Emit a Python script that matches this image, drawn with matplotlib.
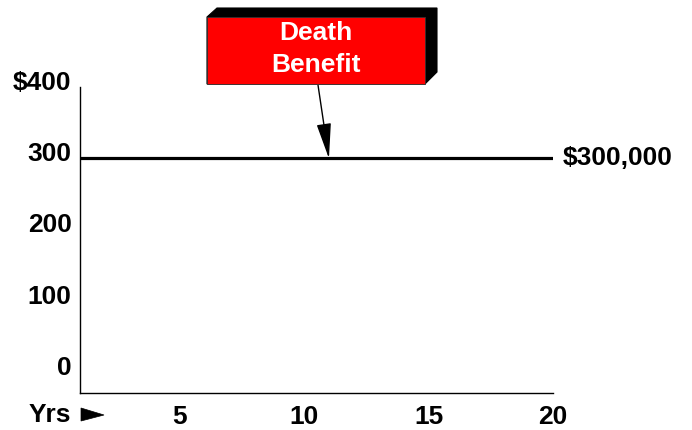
import matplotlib.pyplot as plt
from matplotlib.patches import Polygon, Rectangle
from matplotlib.transforms import ScaledTranslation

plt.rcParams['font.family'] = ['Liberation Sans', 'DejaVu Sans']
plt.rcParams['font.weight'] = 'bold'

years = [1, 20]
benefit = [300, 300]          # thousands of dollars
yticks = [0, 100, 200, 300, 400]
ytick_labels = ['0', '100', '200', '300', '$400']
xticks = [5, 10, 15, 20]
end_label = '$300,000'
callout = 'Death\nBenefit'
arrow_year = 11

W, H = 692, 430
FS = 19
fig = plt.figure(figsize=(W / 100, H / 100), dpi=100)
ax = fig.add_axes([80 / W, (H - 393) / H, (553 - 80) / W, (393 - 87) / H])

ax.plot(years, benefit, color='black', lw=2.3, solid_capstyle='butt')
ax.set_xlim(1, 20)
ax.set_ylim(-28, 400)

ax.set_yticks(yticks)
ax.set_yticklabels(ytick_labels, fontsize=FS, fontweight='bold')
ax.set_xticks(xticks)
ax.set_xticklabels([str(x) for x in xticks], fontsize=FS, fontweight='bold')
ax.tick_params(length=0)
ax.tick_params(axis='y', pad=6)
ax.tick_params(axis='x', pad=9)
for lab in ax.get_yticklabels():
    lab.set_transform(lab.get_transform() + ScaledTranslation(0, 7 / 100, fig.dpi_scale_trans))

for s in ['top', 'right']:
    ax.spines[s].set_visible(False)
for s in ['left', 'bottom']:
    ax.spines[s].set_linewidth(1.0)

ax.text(1.02, benefit[-1], end_label, transform=ax.get_yaxis_transform(),
        ha='left', va='center', fontsize=FS, fontweight='bold', clip_on=False)


def fpt(x, y):
    return (x / W, 1 - y / H)


fig.text(*fpt(29, 415), 'Yrs', ha='left', va='center', fontsize=FS, fontweight='bold')
fig.add_artist(Polygon([fpt(81, 408), fpt(81, 421), fpt(104, 415)], closed=True,
                       transform=fig.transFigure, facecolor='black', edgecolor='black', lw=0.5))

# callout box with 3D extrusion
shadow = Polygon([fpt(207, 17), fpt(217, 8), fpt(437, 8), fpt(437, 72),
                  fpt(425, 84), fpt(207, 84)], closed=True,
                 transform=fig.transFigure, facecolor='black', edgecolor='black', lw=0.8)
fig.add_artist(shadow)
x0, y0 = fpt(207, 84)
box = Rectangle((x0, y0), (425 - 207) / W, (84 - 17) / H, transform=fig.transFigure,
                facecolor='#ff0000', edgecolor='#333333', lw=0.6)
fig.add_artist(box)
fig.text(*fpt(316, 49), callout, ha='center', va='center', color='white',
         fontsize=FS, fontweight='bold', linespacing=1.4)

ax.annotate('', xy=(arrow_year, benefit[0]), xycoords='data',
            xytext=fpt(318, 85), textcoords='figure fraction',
            arrowprops=dict(arrowstyle='-|>,head_length=2.2,head_width=0.45',
                            color='black', lw=1.0, shrinkA=0, shrinkB=0),
            annotation_clip=False)

fig.savefig('out.png', dpi=100)
